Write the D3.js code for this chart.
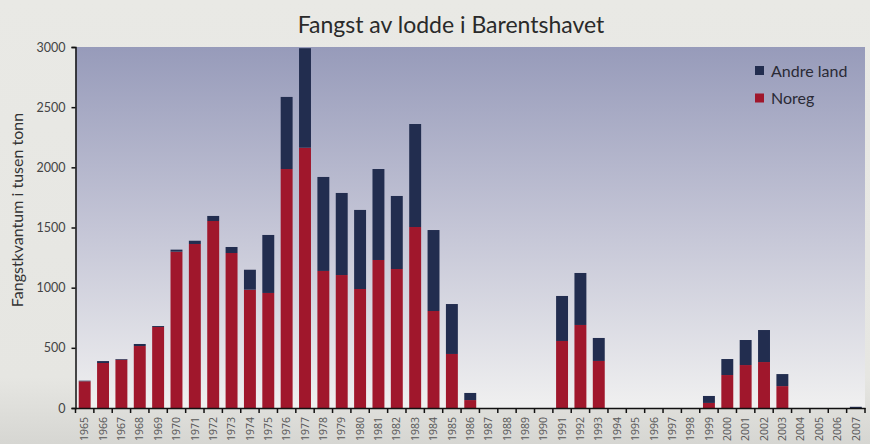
<!DOCTYPE html>
<html><head><meta charset="utf-8">
<script src="https://cdn.jsdelivr.net/npm/d3@7/dist/d3.min.js"></script>
<style>
html,body{margin:0;padding:0;background:#e8e8e4;}
svg{display:block;}
</style></head>
<body>
<svg id="c" width="870" height="444"></svg>
<script>
const years = d3.range(1965, 2008).map(String);
const noreg = [222,374,401,515,673,1299,1363,1554,1288,983,956,1986,2163,1139,1105,989,1230,1155,1504,806,449,66,0,0,0,0,557,690,391,0,0,0,0,0,42,274,357,382,182,0,0,0,0];
const andreLand = [5,16,6,17,8,17,27,42,50,166,482,599,827,781,682,657,756,607,856,673,415,59,0,0,0,0,374,432,191,0,0,0,0,0,58,133,208,266,100,0,0,0,10];
const yTicks = [0,500,1000,1500,2000,2500,3000];
const seriesNames = ["Andre land","Noreg"];
const colors = {"Noreg":"#a0172c","Andre land":"#222d4f"};

const svg = d3.select("#c");
const W = 870, H = 444;
const m = {l:75.5, r:865, t:47, b:408};

const defs = svg.append("defs");
const bgG = defs.append("linearGradient").attr("id","bgg").attr("x1",0).attr("y1",0).attr("x2",0).attr("y2",1);
bgG.append("stop").attr("offset","0%").attr("stop-color","#e9e9e5");
bgG.append("stop").attr("offset","85%").attr("stop-color","#e6e6e2");
bgG.append("stop").attr("offset","100%").attr("stop-color","#d6d6d2");
const plG = defs.append("linearGradient").attr("id","plg").attr("x1",0).attr("y1",0).attr("x2",0).attr("y2",1);
plG.append("stop").attr("offset","0%").attr("stop-color","#979bba");
plG.append("stop").attr("offset","50%").attr("stop-color","#c4c5d6");
plG.append("stop").attr("offset","100%").attr("stop-color","#f0f0f0");

svg.append("rect").attr("width",W).attr("height",H).attr("fill","url(#bgg)");
svg.append("rect").attr("x",m.l).attr("y",m.t).attr("width",m.r-m.l).attr("height",m.b-m.t).attr("fill","url(#plg)");

const x = d3.scaleBand().domain(years).range([m.l, m.r]).paddingInner(0.35).paddingOuter(0.175);
const y = d3.scaleLinear().domain([0,3000]).range([m.b, m.t]);

const data = years.map((yr,i)=>({year:yr, "Noreg":noreg[i], "Andre land":andreLand[i]}));
const stack = d3.stack().keys(["Noreg","Andre land"])(data);

svg.append("g").selectAll("g").data(stack).join("g")
  .attr("fill", d=>colors[d.key])
  .selectAll("rect").data(d=>d).join("rect")
  .attr("x", d=>x(d.data.year))
  .attr("width", x.bandwidth())
  .attr("y", d=>y(d[1]))
  .attr("height", d=>Math.max(0, y(d[0])-y(d[1])));

// Y axis
const ya = svg.append("g").attr("transform",`translate(${m.l},0)`)
  .call(d3.axisLeft(y).tickValues(yTicks).tickSize(4).tickPadding(6).tickFormat(d3.format("d")));
ya.select(".domain").attr("stroke","#111").attr("stroke-width",1.5);
ya.selectAll(".tick line").attr("stroke","#111").attr("stroke-width",1.5);
ya.selectAll("text").attr("font-family","Lato, 'Open Sans', sans-serif").attr("font-size",12.5).attr("fill","#444");

// X axis line and ticks at band boundaries
const xa = svg.append("g").attr("transform",`translate(0,${m.b})`)
  .call(d3.axisBottom(x).tickSize(0).tickPadding(0));
xa.select(".domain").attr("stroke","#111").attr("stroke-width",1.5);
xa.selectAll(".tick text")
  .attr("transform","rotate(-90)")
  .attr("text-anchor","end")
  .attr("x",-9).attr("y",0).attr("dy","0.35em")
  .attr("font-family","'Open Sans', sans-serif").attr("font-size",10.5).attr("fill","#555");
const step = x.step();
svg.append("g").selectAll("line").data(d3.range(years.length+1)).join("line")
  .attr("x1", i=>m.l + i*step).attr("x2", i=>m.l + i*step)
  .attr("y1", m.b).attr("y2", m.b+5)
  .attr("stroke","#111").attr("stroke-width",1.5);

// Title
svg.append("text").attr("x",451).attr("y",33).attr("text-anchor","middle")
  .attr("font-family","Lato, sans-serif").attr("font-size",23).attr("fill","#2a2a2a")
  .text("Fangst av lodde i Barentshavet");

// Y label
svg.append("text").attr("transform","translate(23,210) rotate(-90)").attr("text-anchor","middle")
  .attr("font-family","Lato, sans-serif").attr("font-size",16).attr("fill","#333")
  .text("Fangstkvantum i tusen tonn");

// Legend
const lg = svg.append("g");
seriesNames.forEach((n,i)=>{
  lg.append("rect").attr("x",755).attr("y",66+i*27.5).attr("width",9).attr("height",9).attr("fill",colors[n]);
  lg.append("text").attr("x",771).attr("y",71+i*27.5).attr("dy","0.35em")
    .attr("font-family","Lato, sans-serif").attr("font-size",16).attr("fill","#2a2a35").text(n);
});
</script>
</body></html>
